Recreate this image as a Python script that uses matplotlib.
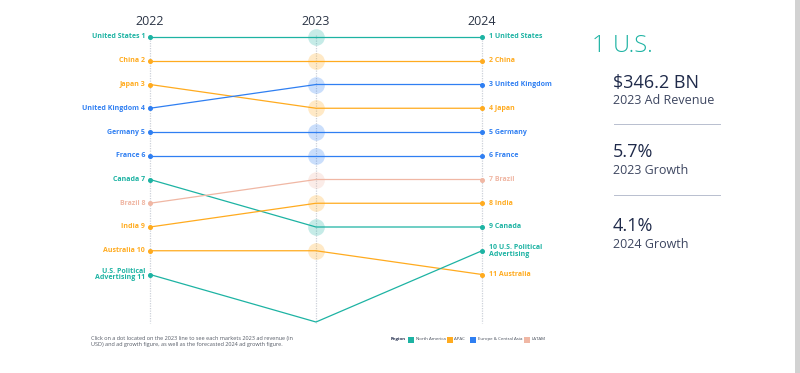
import matplotlib
matplotlib.use("Agg")
import matplotlib.pyplot as plt
from matplotlib.patches import Rectangle

# ---- data ----
years = ["2022", "2023", "2024"]
markets = ["United States", "China", "Japan", "United Kingdom", "Germany", "France",
           "Canada", "Brazil", "India", "Australia", "U.S. Political\nAdvertising"]
regions = ["North America", "APAC", "APAC", "Europe & Central Asia", "Europe & Central Asia",
           "Europe & Central Asia", "North America", "LATAM", "APAC", "APAC", "North America"]
rank_2022 = [1, 2, 3, 4, 5, 6, 7, 8, 9, 10, 11]
rank_2023 = [1, 2, 4, 3, 5, 6, 9, 7, 8, 10, 13]
rank_2024 = [1, 2, 4, 3, 5, 6, 9, 7, 8, 11, 10]
show_2023_dot = [True] * 10 + [False]

region_names = ["North America", "APAC", "Europe & Central Asia", "LATAM"]
region_colors = ["#1db3a3", "#ffab1f", "#2f7ff2", "#f0b7a4"]

panel_title = "1  U.S."
panel_values = ["$346.2 BN", "5.7%", "4.1%"]
panel_labels = ["2023 Ad Revenue", "2023 Growth", "2024 Growth"]
footnote = ("Click on a dot located on the 2023 line to see each markets 2023 ad revenue (in\n"
            "USD) and ad growth figure, as well as the forecasted 2024 ad growth figure.")

cmap = dict(zip(region_names, region_colors))
W, H = 800, 373
fig = plt.figure(figsize=(W / 100, H / 100), dpi=100)
fig.patch.set_facecolor("white")
FONT = "Open Sans"
DARK = "#1f2a4a"

# main bump axes: x=0 at 150px, x=2 at 482px; rank1 at 37px, rank13 at 322px
x0, x1 = 150, 482
y_top, y_bot = 37, 322
ax = fig.add_axes([x0 / W, 1 - y_bot / H, (x1 - x0) / W, (y_bot - y_top) / H])
ax.set_xlim(0, 2)
ax.set_ylim(13, 1)
ax.axis("off")

xs = [0, 1, 2]
for xi in xs:
    ax.plot([xi, xi], [0.9, 13.05], color="#cdd1d9", lw=0.9, ls=(0, (1, 1)),
            clip_on=False, zorder=1)
    ax.text(xi, 0.35, years[xi], ha="center", va="center", fontsize=9,
            color="#2b3445", family=FONT, clip_on=False)

for m, reg, r2, r3, r4, sd in zip(markets, regions, rank_2022, rank_2023, rank_2024, show_2023_dot):
    c = cmap[reg]
    ax.plot(xs, [r2, r3, r4], color=c, lw=0.9, clip_on=False, zorder=2)
    ax.plot([0, 2], [r2, r4], ls="none", marker="o", ms=2.6, color=c, clip_on=False, zorder=3)
    if sd:
        ax.plot([1], [r3], ls="none", marker="o", ms=12, color=c, alpha=0.25,
                markeredgewidth=0, clip_on=False, zorder=4)
    ax.text(-0.03, r2, f"{m} {r2}", ha="right", va="center", fontsize=5.0,
            fontweight="bold", color=c, family=FONT, linespacing=0.95, clip_on=False)
    ax.text(2.045, r4, f"{r4} {m}", ha="left", va="center", fontsize=5.0,
            fontweight="bold", color=c, family=FONT, linespacing=0.95, clip_on=False)

# right panel
def fx(px):
    return px / W

def fy(py):
    return 1 - py / H

fig.text(fx(592), fy(46), "1", ha="left", va="center", fontsize=17,
         color="#1db3a3", family=FONT, fontweight="light")
fig.text(fx(613), fy(46), "U.S.", ha="left", va="center", fontsize=17,
         color="#1db3a3", family=FONT, fontweight="light")
vy = [83, 152, 226]
for i, (v, l) in enumerate(zip(panel_values, panel_labels)):
    fig.text(fx(613), fy(vy[i]), v, ha="left", va="center", fontsize=13,
             color=DARK, family=FONT)
    fig.text(fx(613), fy(vy[i] + 18), l, ha="left", va="center", fontsize=9,
             color="#3d4660", family=FONT)
for ly in [124, 195]:
    fig.add_artist(plt.Line2D([fx(614), fx(720)], [fy(ly), fy(ly)], color="#b8bfcf", lw=0.7))

# right edge bar
fig.add_artist(Rectangle((fx(795), 0), fx(5), 1, color="#d2d2d2", lw=0))

# footnote
fig.text(fx(91), fy(341.5), footnote, ha="left", va="center", fontsize=3.95,
         color="#555b66", family=FONT, linespacing=1.3)

# legend
fig.text(fx(391), fy(339), "Region", ha="left", va="center", fontsize=3.2,
         fontweight="bold", color=DARK, family=FONT)
lx = [408, 447, 470, 524]
for x, n, c in zip(lx, region_names, region_colors):
    fig.add_artist(Rectangle((fx(x), fy(342.5)), fx(6), 6 / H, color=c, lw=0))
    fig.text(fx(x + 7.5), fy(339), n, ha="left", va="center", fontsize=3.2,
             color="#444b58", family=FONT)

fig.savefig("out.png", dpi=100, facecolor="white")
